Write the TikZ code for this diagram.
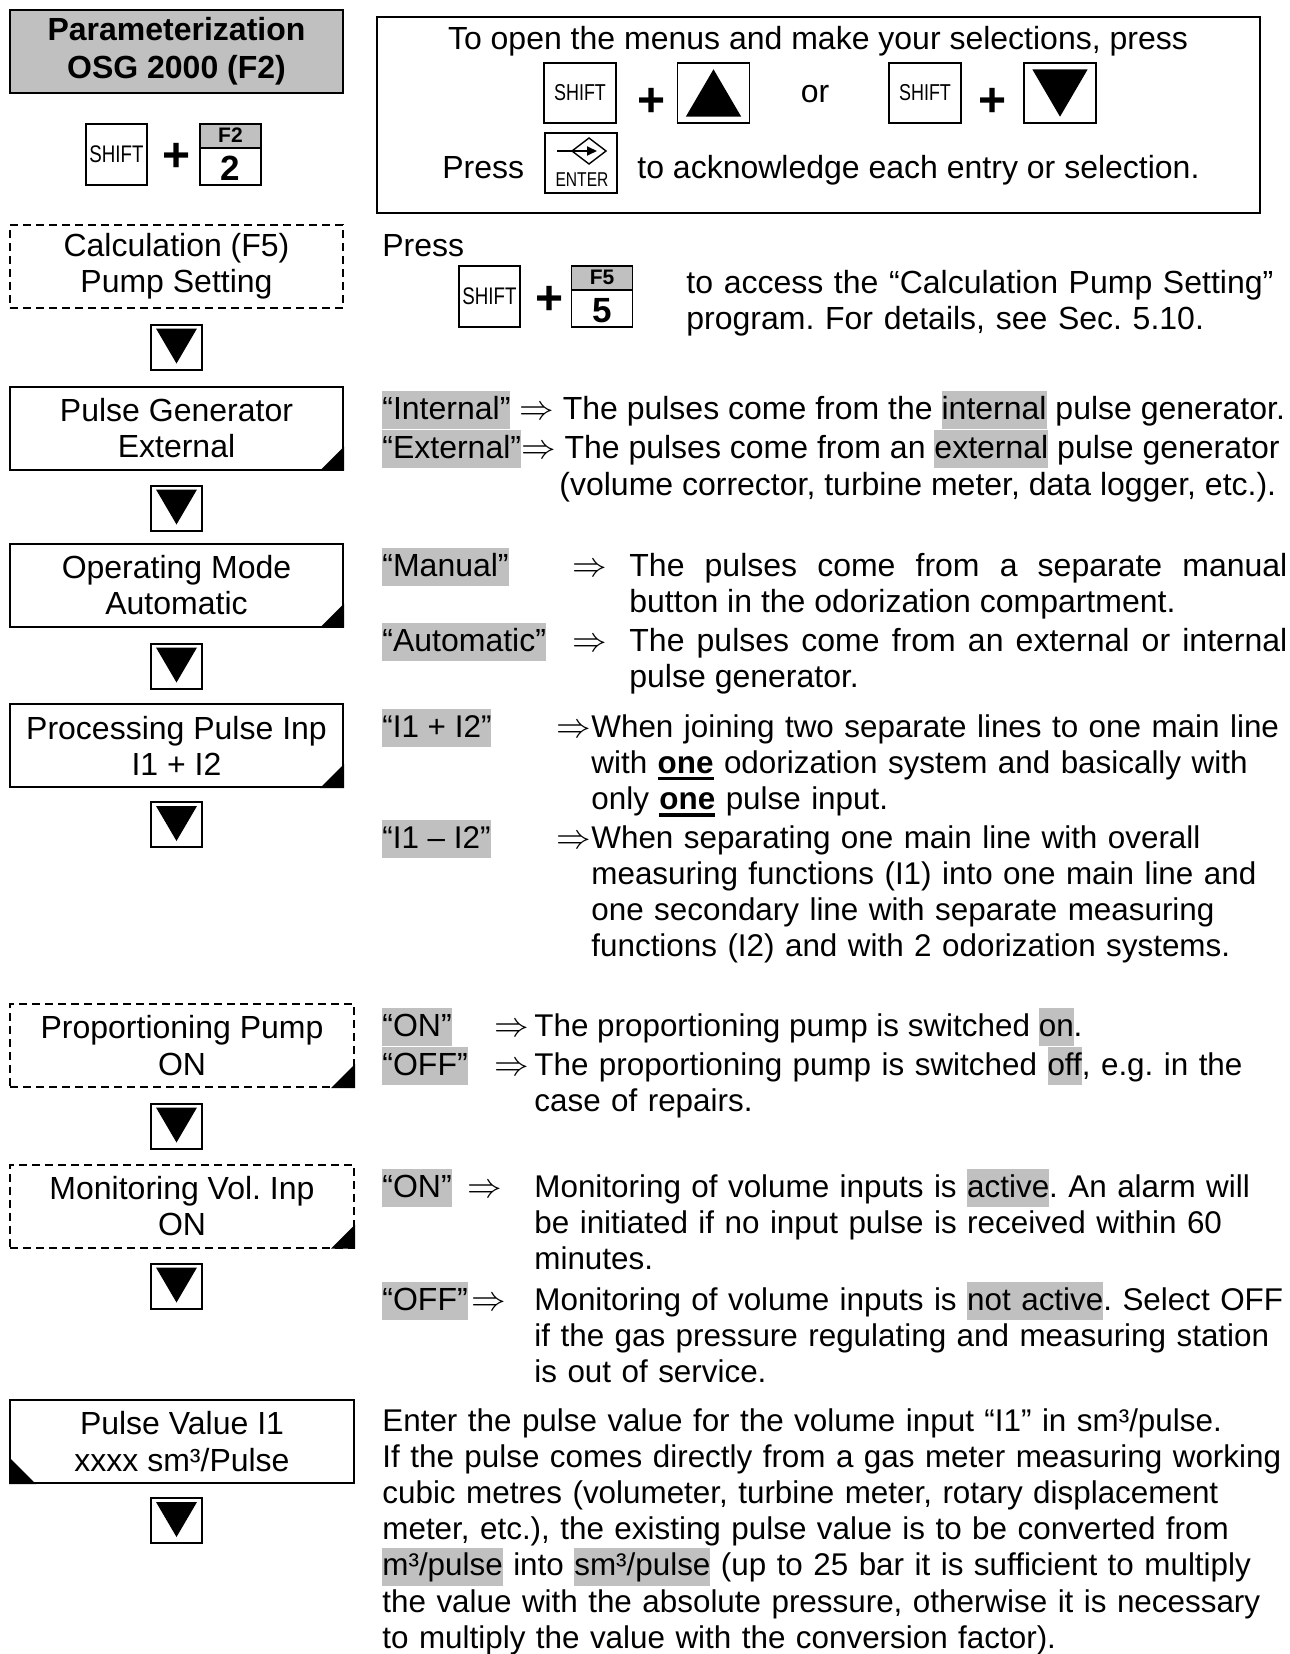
\documentclass[tikz,border=0pt]{standalone}
\usepackage{fontspec}
\setmainfont{Liberation Sans}
\newfontfamily\keyfont[FakeStretch=0.78]{Liberation Sans}
\usetikzlibrary{calc,arrows.meta}

\definecolor{boxgray}{RGB}{192,192,192}
\newcommand{\grayhl}[1]{{\setlength{\fboxsep}{0pt}\colorbox{boxgray}{\rule[-5.2pt]{0pt}{19pt}#1}}}
\newcommand{\emphul}[1]{\setbox0\hbox{\bfseries #1}\rlap{\rule[-3.6pt]{\wd0}{1.6pt}}\box0\relax}

\tikzset{
  menubox/.style={draw, line width=1pt, minimum width=166.5pt, minimum height=41.5pt, inner sep=0pt, align=center},
  dashbox/.style={menubox, dash pattern=on 4pt off 2.5pt},
  titlebox/.style={menubox, fill=boxgray, font=\bfseries},
  downkey/.style={draw, line width=1pt, minimum width=25.5pt, minimum height=22.5pt, inner sep=0pt},
  keybox/.style={draw, line width=0.7pt, minimum width=36pt, minimum height=30pt, inner sep=0pt, font=\keyfont\fontsize{11.5}{12}\selectfont},
  bigkey/.style={keybox, minimum width=30.5pt, minimum height=30.5pt, font=\keyfont\fontsize{12}{12}\selectfont},
  fkey/.style={draw, line width=0.7pt, minimum size=30.5pt, inner sep=0pt,
    path picture={\fill[boxgray] (path picture bounding box.north west) rectangle ([yshift=-12pt]path picture bounding box.north east);
      \draw[line width=0.7pt] ([yshift=-12pt]path picture bounding box.north west) -- ([yshift=-12pt]path picture bounding box.north east);}},
  fkeytop/.style={font=\bfseries\fontsize{10.5}{11}\selectfont, inner sep=0pt},
  fkeydigit/.style={font=\bfseries\fontsize{17.5}{18}\selectfont, inner sep=0pt},
  pluskey/.style={font=\fontsize{24}{24}\selectfont\bfseries, inner sep=0pt},
  txt/.style={anchor=base west, inner sep=0pt},
  paratext/.style={txt, text width=#1, align=left},
  justpara/.style={txt, text width=#1, align=justify},
  narrow/.style={font=\fontsize{15.7}{18.1}\selectfont},
}

\begin{document}
\frenchspacing
\fontsize{16}{18.1}\selectfont
\begin{tikzpicture}[x=0.5pt,y=-0.5pt]
\useasboundingbox (0,0) rectangle (1290,1654);

% left column: menu
\node[titlebox] (title) at (176.5,51.5) {Parameterization\\[1pt]OSG 2000 (F2)};
\node[bigkey] (shift0) at (116.5,154.5) {SHIFT};
\node[pluskey] (plus0) at (177,157) {+};
\node[fkey] (f2) at (230.5,154.5) {};
\node[fkeytop] (f2a) at ($(f2.north)+(0,12)$) {F2};
\node[fkeydigit] (f2b) at ($(f2.center)+(0,14)$) {2};

\node[dashbox] (calc) at (176.5,266.5) {Calculation (F5)\\Pump Setting};
\node[menubox] (pgen) at (176.5,428) {Pulse Generator\\External};
\node[menubox] (opmode) at (176.5,585) {Operating Mode\\Automatic};
\node[menubox] (proc) at (176.5,745.5) {Processing Pulse Inp\\I1 + I2};
\node[dashbox, minimum width=172pt] (prop) at (182,1045.5) {Proportioning Pump\\ON};
\node[dashbox, minimum width=172pt] (monit) at (182,1206) {Monitoring Vol. Inp\\ON};
\node[menubox, minimum width=172pt] (pval) at (182,1441.5) {Pulse Value I1\\xxxx sm³/Pulse};

\foreach \b in {pgen,opmode,proc,prop,monit}
  \fill (\b.south east) -- ++(0,-24) -- ++(-24,24) -- cycle;
\fill (pval.south west) -- ++(0,-27) -- ++(27,27) -- cycle;

\foreach \n/\y in {d1/347,d2/508,d3/666,d4/824.5,d5/1126,d6/1286,d7/1520.5} {
  \node[downkey] (\n) at (176.5,\y) {};
  \fill ($(\n.north west)+(6,5)$) -- ($(\n.north east)+(-6,5)$) -- ($(\n.south)+(0,-7)$) -- cycle;
}

% right column: help box
\node[draw, line width=1pt, minimum width=441.75pt, minimum height=98pt, inner sep=0pt] (help) at (818.25,115) {};
\node[txt, anchor=base] (helpa) at (818,49) {To open the menus and make your selections, press};
\node[keybox] (shift1) at (580,93) {SHIFT};
\node[pluskey] (plus1) at (652,102) {+};
\node[keybox] (up) at (713.5,93) {};
\fill ($(up.south west)+(9,-7)$) -- ($(up.south east)+(-9,-7)$) -- ($(up.north)+(0,7)$) -- cycle;
\node (or) at (815,94) {or};
\node[keybox] (shift2) at (925,93) {SHIFT};
\node[pluskey] (plus2) at (993,102) {+};
\node[keybox] (down) at (1060,93) {};
\fill ($(down.north west)+(9,7)$) -- ($(down.north east)+(-9,7)$) -- ($(down.south)+(0,-7)$) -- cycle;
\node[txt] (press) at (442,178) {Press};
\node[keybox] (enter) at (581,163) {};
\begin{scope}[shift={(enter.center)}]
  \draw[line width=0.7pt] (8,-25) -- (25,-12) -- (8,1) -- (-9,-12) -- cycle;
  \draw[line width=0.9pt, -{Triangle[length=5pt,width=4.5pt]}] (-24,-12) -- (16,-12);
  \node[font=\keyfont\fontsize{10}{10}\selectfont, inner sep=0pt] (entera) at (1,17) {ENTER};
\end{scope}
\node[txt] (ack) at (637,178) {to acknowledge each entry or selection.};

% calculation
\node[txt] (pressf5) at (382,256) {Press};
\node[bigkey] (shift3) at (489.5,296.5) {SHIFT};
\node[pluskey] (plus3) at (550,300) {+};
\node[fkey] (f5) at (602,296.5) {};
\node[fkeytop] (f5a) at ($(f5.north)+(0,12)$) {F5};
\node[fkeydigit] (f5b) at ($(f5.center)+(0,14)$) {5};
\node[paratext=300pt] (calctx) at (686,293) {to access the “Calculation Pump Setting”\\program. For details, see Sec. 5.10.};

% pulse generator
\node[txt] (intl) at (382,419) {\grayhl{“Internal”} $\Rightarrow$ The pulses come from the \grayhl{internal} pulse generator.};
\node[txt] (extl) at (382,458) {\grayhl{“External”}$\Rightarrow$ The pulses come from an \grayhl{external} pulse generator};
\node[txt] (extlb) at (559,495) {(volume corrector, turbine meter, data logger, etc.).};

% operating mode
\node[txt] (manual) at (382,576) {\grayhl{“Manual”}};
\node[txt] (manualar) at (572,576) {$\Rightarrow$};
\node[justpara=329pt] (manualtx) at (629,576) {The pulses come from a separate manual\linebreak button in the odorization compartment.};
\node[txt] (auto) at (382,651) {\grayhl{“Automatic”}};
\node[txt] (autoar) at (572,651) {$\Rightarrow$};
\node[justpara=329pt] (autotx) at (629,651) {The pulses come from an external or internal\linebreak pulse generator.};

% processing pulse inputs
\node[txt, narrow] (sum) at (382,737) {\grayhl{“I1 + I2”}};
\node[txt] (sumar) at (556,737) {$\Rightarrow$};
\node[paratext=355pt, narrow] (sumtx) at (591,737) {When joining two separate lines to one main line\\with \emphul{one} odorization system and basically with\\only \emphul{one} pulse input.};
\node[txt, narrow] (diff) at (382,848) {\grayhl{“I1 – I2”}};
\node[txt] (diffar) at (556,848) {$\Rightarrow$};
\node[paratext=355pt, narrow] (difftx) at (591,848) {When separating one main line with overall\\measuring functions (I1) into one main line and\\one secondary line with separate measuring\\functions (I2) and with 2 odorization systems.};

% proportioning pump
\node[txt] (pon) at (382,1036) {\grayhl{“ON”}};
\node[txt] (ponar) at (494,1036) {$\Rightarrow$};
\node[txt, narrow] (pontx) at (534,1036) {The proportioning pump is switched \grayhl{on}.};
\node[txt] (poff) at (382,1075) {\grayhl{“OFF”}};
\node[txt] (poffar) at (494,1075) {$\Rightarrow$};
\node[paratext=390pt, narrow] (pofftx) at (534,1075) {The proportioning pump is switched \grayhl{off}, e.g. in the\\case of repairs.};

% monitoring
\node[txt] (mon) at (382,1197) {\grayhl{“ON”}};
\node[txt] (monar) at (467,1197) {$\Rightarrow$};
\node[paratext=390pt, narrow] (montx) at (534,1197) {Monitoring of volume inputs is \grayhl{active}. An alarm will\\be initiated if no input pulse is received within 60\\minutes.};
\node[txt] (moff) at (382,1310) {\grayhl{“OFF”}};
\node[txt] (moffar) at (471,1310) {$\Rightarrow$};
\node[paratext=390pt, narrow] (mofftx) at (534,1310) {Monitoring of volume inputs is \grayhl{not active}. Select OFF\\if the gas pressure regulating and measuring station\\is out of service.};

% pulse value
\node[paratext=460pt, narrow] (pvtx) at (382,1431) {Enter the pulse value for the volume input “I1” in sm³/pulse.\\
If the pulse comes directly from a gas meter measuring working\\
cubic metres (volumeter, turbine meter, rotary displacement\\
meter, etc.), the existing pulse value is to be converted from\\
\grayhl{m³/pulse} into \grayhl{sm³/pulse} (up to 25 bar it is sufficient to multiply\\
the value with the absolute pressure, otherwise it is necessary\\
to multiply the value with the conversion factor).};
\end{tikzpicture}
\end{document}
